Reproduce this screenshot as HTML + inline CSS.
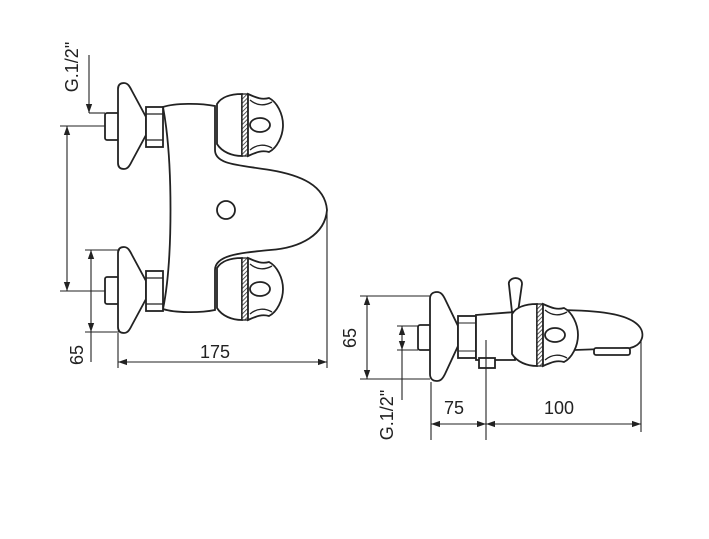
<!DOCTYPE html>
<html><head><meta charset="utf-8"><style>
html,body{margin:0;padding:0;background:#fff}
svg{display:block}
text{font-family:"Liberation Sans",sans-serif;font-size:18px;fill:#222}
</style></head><body>
<svg width="709" height="539" viewBox="0 0 709 539" xmlns="http://www.w3.org/2000/svg">
<defs>
<marker id="a" viewBox="0 0 10 10" refX="10" refY="5" markerWidth="9" markerHeight="9" orient="auto-start-reverse" markerUnits="userSpaceOnUse"><path d="M0,1.5 L10,5 L0,8.5 z" fill="#222"/></marker>
<pattern id="h" width="3" height="3" patternUnits="userSpaceOnUse" patternTransform="rotate(45)"><rect width="3" height="3" fill="#fff"/><line x1="0" y1="0" x2="0" y2="3" stroke="#333" stroke-width="1.6"/></pattern>
<g id="knob">
<path d="M0,10 C5,2 15,0 25,0 L25,62 C15,62 5,58 0,50 Z" fill="#fff" stroke="#222" stroke-width="1.8"/>
<rect x="25" y="0" width="6" height="62" fill="url(#h)" stroke="#222" stroke-width="1.3"/>
<path d="M31,0 C40,4 45,6 52,4 C60,8 66,20 66,31 C66,42 60,54 52,58 C45,56 40,58 31,62 Z" fill="#fff" stroke="#222" stroke-width="1.8"/>
<path d="M33,6 C40,12 48,12 55,8 M33,56 C40,50 48,50 55,54" fill="none" stroke="#222" stroke-width="1.3"/>
<ellipse cx="43" cy="31" rx="10" ry="7" fill="#fff" stroke="#222" stroke-width="1.8"/>
</g>
<g id="valve">
<rect x="105" y="0" width="14" height="27" rx="2" fill="#fff" stroke="#222" stroke-width="1.8"/>
<path d="M124,-30 C120,-30 118,-28 118,-24 L118,50 C118,54 120,56 124,56 C128,56 130,52 132,48 L146,22 L146,4 L132,-22 C130,-26 128,-30 124,-30 Z" fill="#fff" stroke="#222" stroke-width="1.8"/>
<rect x="146" y="-6" width="17" height="40" fill="#fff" stroke="#222" stroke-width="1.8"/>
<line x1="146" y1="1" x2="163" y2="1" stroke="#222" stroke-width="1.3"/>
<line x1="146" y1="27" x2="163" y2="27" stroke="#222" stroke-width="1.3"/>
</g>
</defs>
<g fill="none" stroke="#222" stroke-width="1.8">
<path d="M163,107 C175,103 200,103 215,106 L215,150 C215,165 240,165 270,170 C300,175 325,185 327,210 C325,235 300,248 270,250 C240,253 215,255 215,270 L215,310 C200,313 175,313 163,309 C173,260 173,160 163,107 Z" fill="#fff"/>
<circle cx="226" cy="210" r="9"/>
</g>
<use href="#valve" y="113"/>
<use href="#valve" y="277"/>
<use href="#knob" x="217" y="94"/>
<use href="#knob" x="217" y="258"/>
<g stroke="#222" stroke-width="1.1" fill="none">
<line x1="60" y1="126" x2="105" y2="126"/>
<line x1="60" y1="291" x2="105" y2="291"/>
<line x1="67" y1="126" x2="67" y2="291" marker-start="url(#a)" marker-end="url(#a)"/>
<line x1="85" y1="250" x2="120" y2="250"/>
<line x1="85" y1="332" x2="120" y2="332"/>
<line x1="91" y1="250" x2="91" y2="332" marker-start="url(#a)" marker-end="url(#a)"/>
<line x1="91" y1="332" x2="91" y2="362"/>
<line x1="118" y1="333" x2="118" y2="368"/>
<line x1="327" y1="212" x2="327" y2="368"/>
<line x1="118" y1="362" x2="327" y2="362" marker-start="url(#a)" marker-end="url(#a)"/>
<line x1="89" y1="55" x2="89" y2="113" marker-end="url(#a)"/>
<line x1="89" y1="113" x2="105" y2="113"/>
</g>
<text x="215" y="358" text-anchor="middle">175</text>
<text transform="translate(83,355) rotate(-90)" text-anchor="middle">65</text>
<text transform="translate(78,67) rotate(-90)" text-anchor="middle">G.1/2"</text>
<g fill="#fff" stroke="#222" stroke-width="1.8">
<path d="M550,310 C590,310 625,312 638,325 C646,333 643,345 630,348 L575,350 Z"/>
<rect x="594" y="348" width="36" height="7" rx="2"/>
<path d="M509,285 C507,277 522,275 522,284 L518,312 L512,312 Z"/>
<rect x="418" y="325" width="13" height="25" rx="2"/>
<path d="M437,292 C432,292 430,295 430,299 L430,374 C430,378 432,381 437,381 C441,381 443,378 445,374 L458,346 L458,326 L445,299 C443,295 441,292 437,292 Z"/>
<rect x="458" y="316" width="18" height="42"/>
<path d="M476,315 L515,312 L515,360 L476,360 Z"/>
<rect x="479" y="358" width="16" height="10"/>
</g>
<use href="#knob" x="512" y="304"/>
<g stroke="#222" stroke-width="1.1" fill="none">
<line x1="458" y1="323" x2="476" y2="323"/><line x1="458" y1="351" x2="476" y2="351"/>
<line x1="360" y1="296" x2="430" y2="296"/>
<line x1="360" y1="379" x2="430" y2="379"/>
<line x1="367" y1="296" x2="367" y2="379" marker-start="url(#a)" marker-end="url(#a)"/>
<line x1="397" y1="326" x2="418" y2="326"/>
<line x1="397" y1="350" x2="418" y2="350"/>
<line x1="402" y1="326" x2="402" y2="350" marker-start="url(#a)" marker-end="url(#a)"/>
<line x1="402" y1="350" x2="402" y2="400"/>
<line x1="431" y1="382" x2="431" y2="440"/>
<line x1="486" y1="340" x2="486" y2="440"/>
<line x1="641" y1="340" x2="641" y2="432"/>
<line x1="431" y1="424" x2="486" y2="424" marker-start="url(#a)" marker-end="url(#a)"/>
<line x1="486" y1="424" x2="641" y2="424" marker-start="url(#a)" marker-end="url(#a)"/>
</g>
<text x="454" y="414" text-anchor="middle">75</text>
<text x="559" y="414" text-anchor="middle">100</text>
<text transform="translate(356,338) rotate(-90)" text-anchor="middle">65</text>
<text transform="translate(393,415) rotate(-90)" text-anchor="middle">G.1/2"</text>
</svg>
</body></html>
